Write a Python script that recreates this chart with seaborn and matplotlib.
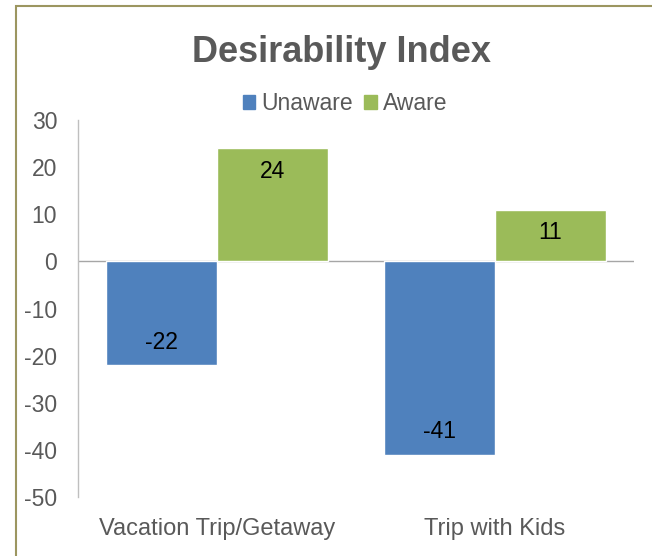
import numpy as np
import pandas as pd
import matplotlib.pyplot as plt
import seaborn as sns
from matplotlib.patches import Rectangle

categories = ['Vacation Trip/Getaway', 'Trip with Kids']
unaware = [-22, -41]
aware = [24, 11]
series = ['Unaware', 'Aware']
colors = ['#4F81BD', '#9BBB59']

df = pd.DataFrame({
    'category': categories * 2,
    'series': ['Unaware'] * 2 + ['Aware'] * 2,
    'value': unaware + aware,
})

sns.set_style('white')
plt.rcParams['font.family'] = ['Liberation Sans', 'DejaVu Sans']
plt.rcParams['axes.unicode_minus'] = False

fig = plt.figure(figsize=(6.52, 5.56), dpi=100)
ax = fig.add_axes([78 / 652, 1 - 497 / 556, 556 / 652, 377 / 556])

sns.barplot(data=df, x='category', y='value', hue='series', hue_order=series,
            palette=colors, width=0.8, saturation=1, ax=ax, legend=False)

# labels at the inside end of each bar
for container in ax.containers:
    for bar in container:
        h = bar.get_height()
        x = bar.get_x() + bar.get_width() / 2
        off = -23 if h > 0 else 23
        ax.annotate(f'{h:.0f}', (x, h), xytext=(0, off), textcoords='offset pixels',
                    ha='center', va='center', fontsize=16.5, color='black')

ax.set_ylim(-50, 30)
ax.set_yticks(np.arange(-50, 31, 10))
ax.set_xlim(-0.5, 1.5)
ax.axhline(0, color='#A6A6A6', lw=1, zorder=0.5)
ax.set_xlabel('')
ax.set_ylabel('')
for s in ['top', 'right', 'bottom']:
    ax.spines[s].set_visible(False)
ax.spines['left'].set_color('#BFBFBF')
ax.spines['left'].set_linewidth(1)
ax.tick_params(axis='y', length=0, labelsize=16.5, labelcolor='#595959', pad=15)
ax.tick_params(axis='x', length=0, labelsize=17, labelcolor='#595959', pad=15)

# legend
handles = [Rectangle((0, 0), 1, 1, color=c) for c in colors]
fig.legend(handles, series, loc='center', bbox_to_anchor=(345 / 652, 1 - 104 / 556),
           ncol=2, frameon=False, fontsize=16.5, labelcolor='#595959',
           handlelength=0.55, handleheight=0.55, handletextpad=0.25, columnspacing=0.5,
           borderpad=0)

fig.text(341 / 652, 1 - 52 / 556, 'Desirability Index', ha='center', va='center',
         fontsize=26, fontweight='bold', color='#595959')

# chart frame (only top and left edges visible in crop)
fig.patches.append(Rectangle((16 / 652, -0.1), 1.2, 1 - 6 / 556 + 0.1,
                             transform=fig.transFigure, fill=False,
                             edgecolor='#9C9660', lw=1.5))

fig.savefig('out.png', dpi=100)
